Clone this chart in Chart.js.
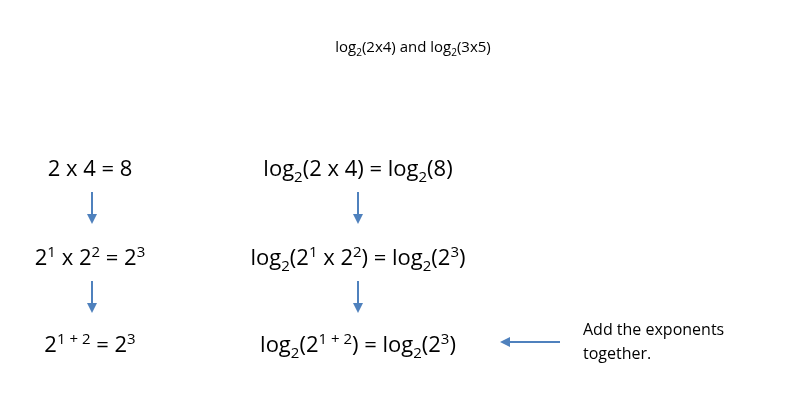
<!DOCTYPE html>
<html>
<head>
<meta charset="utf-8">
<script src="https://cdn.jsdelivr.net/npm/chart.js@4.4.1/dist/chart.umd.min.js"></script>
<style>
  html, body { margin: 0; padding: 0; background: #fff; }
  #wrap { width: 804px; height: 420px; }
</style>
</head>
<body>
<div id="wrap"><canvas id="c"></canvas></div>
<script>
// slide content: each step is one row, left column = arithmetic, middle = logs
const title = "log_{2}(2x4) and log_{2}(3x5)";
const leftSteps = ["2 x 4 = 8", "2^{1} x 2^{2} = 2^{3}", "2^{1 + 2} = 2^{3}"];
const midSteps = ["log_{2}(2 x 4) = log_{2}(8)", "log_{2}(2^{1} x 2^{2}) = log_{2}(2^{3})", "log_{2}(2^{1 + 2}) = log_{2}(2^{3})"];
const noteLines = ["Add the exponents", "together."];
const rowY = [168, 257, 344];   // text baselines in chart units
const colX = [90, 358];         // column centres

const FONT = "'Open Sans', Lato, sans-serif";

// split "log_{2}(8)" into runs of normal / sub / sup text
function parse(s) {
  const out = [];
  const re = /([_^])\{([^}]*)\}|([^_^]+)/g;
  let m;
  while ((m = re.exec(s))) {
    if (m[3]) out.push({ t: m[3], k: "n" });
    else out.push({ t: m[2], k: m[1] === "_" ? "sub" : "sup" });
  }
  return out;
}

function setFont(ctx, r, size) {
  ctx.font = (r.k === "n" ? size : Math.round(size * 0.68)) + "px " + FONT;
}

function drawRich(ctx, s, cx, cy, size) {
  const runs = parse(s);
  let w = 0;
  runs.forEach(r => { setFont(ctx, r, size); w += ctx.measureText(r.t).width; });
  let x = cx - w / 2;
  runs.forEach(r => {
    setFont(ctx, r, size);
    const dy = r.k === "sub" ? size * 0.25 : r.k === "sup" ? -size * 0.36 : 0;
    ctx.fillText(r.t, x, cy + dy);
    x += ctx.measureText(r.t).width;
  });
}

function arrow(ctx, x1, y1, x2, y2) {
  const a = Math.atan2(y2 - y1, x2 - x1);
  ctx.save();
  ctx.strokeStyle = "#4f81bd";
  ctx.fillStyle = "#4f81bd";
  ctx.lineWidth = 2;
  ctx.beginPath();
  ctx.moveTo(x1, y1);
  ctx.lineTo(x2 - 6 * Math.cos(a), y2 - 6 * Math.sin(a));
  ctx.stroke();
  ctx.beginPath();
  ctx.moveTo(x2, y2);
  ctx.lineTo(x2 - 10 * Math.cos(a) + 5 * Math.sin(a), y2 - 10 * Math.sin(a) - 5 * Math.cos(a));
  ctx.lineTo(x2 - 10 * Math.cos(a) - 5 * Math.sin(a), y2 - 10 * Math.sin(a) + 5 * Math.cos(a));
  ctx.closePath();
  ctx.fill();
  ctx.restore();
}

const slidePlugin = {
  id: "slide",
  afterDatasetsDraw(chart) {
    const ctx = chart.ctx;
    const sx = chart.scales.x, sy = chart.scales.y;
    const X = v => sx.getPixelForValue(v), Y = v => sy.getPixelForValue(v);
    ctx.save();
    ctx.fillStyle = "#000";
    ctx.textBaseline = "alphabetic";
    ctx.textAlign = "left";
    drawRich(ctx, title, X(413), Y(52), 15);
    rowY.forEach((y, i) => {
      drawRich(ctx, leftSteps[i], X(colX[0]), Y(y + 8), 22);
      drawRich(ctx, midSteps[i], X(colX[1]), Y(y + 8), 22);
    });
    // down arrows between rows
    for (let i = 0; i < rowY.length - 1; i++) {
      arrow(ctx, X(92), Y(rowY[i] + 24), X(92), Y(rowY[i] + 56));
      arrow(ctx, X(358), Y(rowY[i] + 24), X(358), Y(rowY[i] + 56));
    }
    arrow(ctx, X(560), Y(342), X(500), Y(342));
    ctx.fillStyle = "#000";
    ctx.font = "16px " + FONT;
    noteLines.forEach((t, i) => ctx.fillText(t, X(583), Y(335 + i * 24)));
    ctx.restore();
  }
};

new Chart(document.getElementById("c"), {
  type: "scatter",
  data: { datasets: [{ data: rowY.map(y => ({ x: colX[0], y })), pointRadius: 0 }] },
  options: {
    responsive: true,
    maintainAspectRatio: false,
    animation: false,
    layout: { padding: 0 },
    plugins: { legend: { display: false }, tooltip: { enabled: false } },
    scales: {
      x: { type: "linear", min: 0, max: 804, display: false },
      y: { type: "linear", min: 0, max: 420, reverse: true, display: false }
    }
  },
  plugins: [slidePlugin]
});
</script>
</body>
</html>
